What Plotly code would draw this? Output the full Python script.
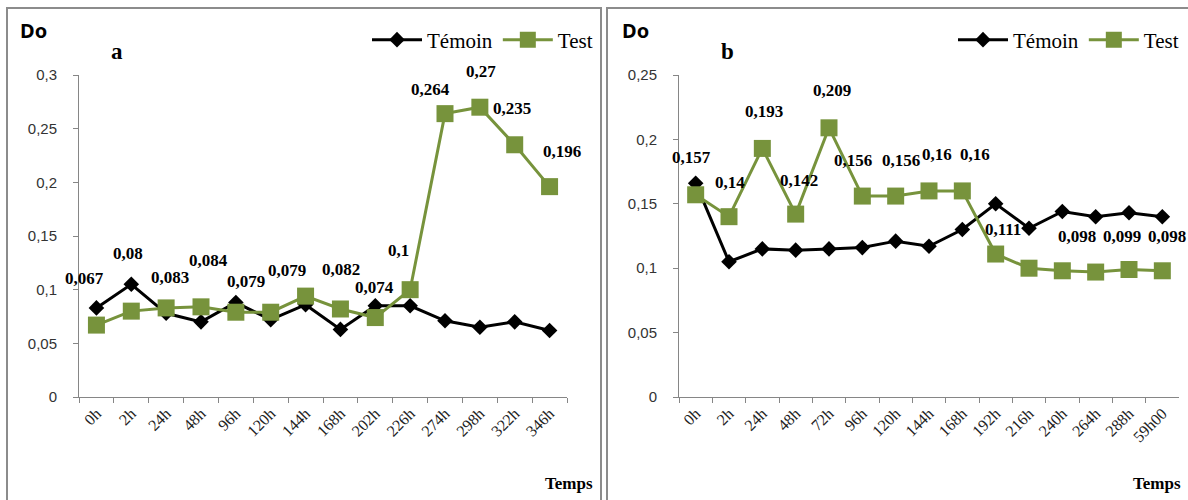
import plotly.graph_objects as go

W, H = 1188, 500

# ---------------- data ----------------
cats_a = ["0h", "2h", "24h", "48h", "96h", "120h", "144h", "168h", "202h", "226h",
          "274h", "298h", "322h", "346h"]
temoin_a = [0.083, 0.105, 0.078, 0.070, 0.088, 0.072, 0.086, 0.063, 0.085, 0.085,
            0.071, 0.065, 0.070, 0.062]
test_a = [0.067, 0.080, 0.083, 0.084, 0.079, 0.079, 0.094, 0.082, 0.074, 0.100,
          0.264, 0.270, 0.235, 0.196]
labelled_a = [1, 1, 1, 1, 1, 1, 0, 1, 1, 1, 1, 1, 1, 1]

cats_b = ["0h", "2h", "24h", "48h", "72h", "96h", "120h", "144h", "168h", "192h",
          "216h", "240h", "264h", "288h", "59h00"]
temoin_b = [0.166, 0.105, 0.115, 0.114, 0.115, 0.116, 0.121, 0.117, 0.130, 0.150,
            0.131, 0.144, 0.140, 0.143, 0.140]
test_b = [0.157, 0.140, 0.193, 0.142, 0.209, 0.156, 0.156, 0.160, 0.160, 0.111,
          0.100, 0.098, 0.097, 0.099, 0.098]
labelled_b = [1, 1, 1, 1, 1, 1, 1, 1, 1, 1, 0, 1, 0, 1, 1]

yticks_a = [0, 0.05, 0.1, 0.15, 0.2, 0.25, 0.3]
yticks_b = [0, 0.05, 0.1, 0.15, 0.2, 0.25]

# ---------------- label offsets (style) ----------------
offx_a = [-12, -3, 4, 7, 10, 16, 0, 1, -1, -12, -15, 1, -3, 12]
offy_a = [47, 58, 30, 46, 31, 42, 0, 39, 30, 39, 24, 36, 36, 35]
offx_b = [-4, 1, 2, 3, 3, -9, 5, 8, 13, 7, 0, 15, 0, -7, 5]
offy_b = [37, 34, 37, 34, 37, 36, 36, 36, 36, 25, 0, 34, 0, 33, 34]

BLACK = "#000000"
GREEN = "#77933C"
AXIS = "#868686"
SERIF = "Liberation Serif"

Y_TOP, Y_BOT = 75, 397


def fmt(v):
    return f"{v:g}".replace(".", ",")


fig = go.Figure()

for cats, tem, tst, xa, ya, lg in [
    (cats_a, temoin_a, test_a, "x", "y", "legend"),
    (cats_b, temoin_b, test_b, "x2", "y2", "legend2"),
]:
    fig.add_trace(go.Scatter(
        x=cats, y=tem, name="Témoin", mode="lines+markers",
        line=dict(color=BLACK, width=3),
        marker=dict(symbol="diamond", size=12, color=BLACK),
        xaxis=xa, yaxis=ya, legend=lg, cliponaxis=False,
    ))
    fig.add_trace(go.Scatter(
        x=cats, y=tst, name="Test", mode="lines+markers",
        line=dict(color=GREEN, width=3),
        marker=dict(symbol="square", size=17, color=GREEN),
        xaxis=xa, yaxis=ya, legend=lg, cliponaxis=False,
    ))

annotations = []
for cats, tst, lab, ox, oy, xr, yr in [
    (cats_a, test_a, labelled_a, offx_a, offy_a, "x", "y"),
    (cats_b, test_b, labelled_b, offx_b, offy_b, "x2", "y2"),
]:
    for c, v, l, dx, dy in zip(cats, tst, lab, ox, oy):
        if not l:
            continue
        annotations.append(dict(
            x=c, y=v, xref=xr, yref=yr, text=fmt(v), showarrow=False,
            xshift=dx, yshift=dy,
            font=dict(family=SERIF, size=17, color=BLACK, weight="bold"),
        ))

# panel texts
for x_do, x_letter, letter, x_temps in [(18, 117, "a", 595), (620, 727, "b", 1183)]:
    annotations.append(dict(x=x_do / W, y=1 - 30 / H, xref="paper", yref="paper",
                            text="Do", showarrow=False, xanchor="left", yanchor="middle",
                            font=dict(family="Noto Sans", size=20, color=BLACK, weight="bold")))
    annotations.append(dict(x=x_letter / W, y=1 - 52 / H, xref="paper", yref="paper",
                            text=letter, showarrow=False, xanchor="center", yanchor="middle",
                            font=dict(family=SERIF, size=23, color=BLACK, weight="bold")))
    annotations.append(dict(x=x_temps / W, y=1 - 483 / H, xref="paper", yref="paper",
                            text="Temps", showarrow=False, xanchor="right", yanchor="middle",
                            font=dict(family=SERIF, size=17, color=BLACK, weight="bold")))

xaxis_common = dict(
    type="category", showline=True, linecolor=AXIS, linewidth=1,
    ticks="outside", tickson="boundaries", ticklen=5, tickcolor=AXIS,
    tickangle=-45, tickfont=dict(family=SERIF, size=16, color="#222222"),
    showgrid=False, zeroline=False, fixedrange=True,
)
yaxis_common = dict(
    showline=True, linecolor=AXIS, linewidth=1, ticks="outside", ticklen=5,
    tickcolor=AXIS, tickfont=dict(family="Liberation Sans", size=15, color="#333333"),
    showgrid=False, zeroline=False, fixedrange=True, ticklabelstandoff=13,
)

legend_common = dict(
    orientation="h", font=dict(family=SERIF, size=21, color=BLACK),
    bgcolor="rgba(0,0,0,0)", yanchor="middle", xanchor="right",
    y=1 - 40 / H, itemclick=False, itemdoubleclick=False,
    itemwidth=50,
)

fig.update_layout(
    width=W, height=H, margin=dict(l=0, r=0, t=0, b=0, autoexpand=False),
    paper_bgcolor="white", plot_bgcolor="white",
    separators=", ",
    xaxis=dict(domain=[79 / W, 567 / W], range=[-0.5, len(cats_a) - 0.5], anchor="y", **xaxis_common),
    yaxis=dict(domain=[1 - Y_BOT / H, 1 - Y_TOP / H], range=[0, 0.3], tickvals=yticks_a,
               anchor="x", **yaxis_common),
    xaxis2=dict(domain=[679 / W, 1179 / W], range=[-0.5, len(cats_b) - 0.5], anchor="y2", **xaxis_common),
    yaxis2=dict(domain=[1 - Y_BOT / H, 1 - Y_TOP / H], range=[0, 0.25], tickvals=yticks_b,
                anchor="x2", **yaxis_common),
    legend=dict(x=598 / W, **legend_common),
    legend2=dict(x=1184 / W, **legend_common),
    annotations=annotations,
    shapes=[
        dict(type="rect", xref="paper", yref="paper", x0=7 / W, x1=601 / W,
             y0=-0.05, y1=1 - 8 / H, line=dict(color="#8c8c8c", width=2)),
        dict(type="rect", xref="paper", yref="paper", x0=607 / W, x1=1.05,
             y0=-0.05, y1=1 - 8 / H, line=dict(color="#8c8c8c", width=2)),
    ],
    showlegend=True,
)

fig.write_html("out.html")
